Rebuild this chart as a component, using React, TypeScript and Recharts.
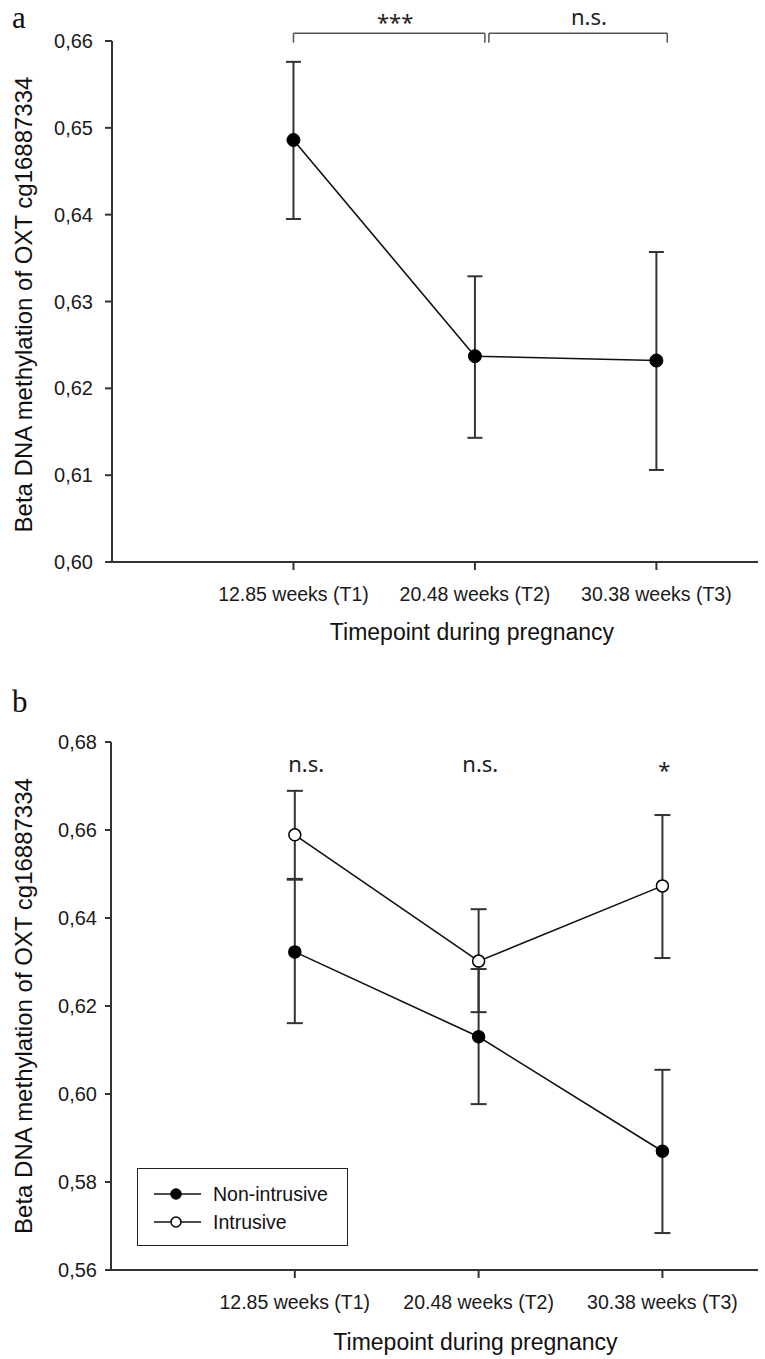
import React from "react";
import { LineChart, Line, XAxis, YAxis, ErrorBar, ReferenceLine, ReferenceDot, Legend } from "recharts";

const sans = "'Liberation Sans', Arial, sans-serif";
const noteFont = "'Noto Sans', sans-serif";

const timepoints = ["12.85 weeks (T1)", "20.48 weeks (T2)", "30.38 weeks (T3)"];
const positions = [1, 2, 3];

// panel a: all women
const meanA = [0.6486, 0.6237, 0.6232];
const lowA = [0.6395, 0.6143, 0.6106];
const highA = [0.6576, 0.6329, 0.6357];
const ticksA = [0.6, 0.61, 0.62, 0.63, 0.64, 0.65, 0.66];

// panel b: split by group
const meanNon = [0.6323, 0.613, 0.587];
const lowNon = [0.6161, 0.5977, 0.5684];
const highNon = [0.6487, 0.6284, 0.6055];
const meanInt = [0.6589, 0.6302, 0.6473];
const lowInt = [0.6489, 0.6186, 0.6309];
const highInt = [0.6689, 0.642, 0.6634];
const ticksB = [0.56, 0.58, 0.6, 0.62, 0.64, 0.66, 0.68];

// significance marks, in data units
const bracketsA = [
  [1.0, 2.055],
  [2.077, 3.06],
];
const bracketTop = 0.6609;
const bracketFoot = 0.6598;
const notesA = [
  { x: 1.56, y: 0.66212, text: "***" },
  { x: 2.628, y: 0.66271, text: "n.s." },
];
const notesB = [
  { x: 1.062, y: 0.6749, text: "n.s." },
  { x: 2.009, y: 0.6749, text: "n.s." },
  { x: 3.01, y: 0.6737, text: "*" },
];

const seriesB = [
  { key: "non", name: "Non-intrusive", open: false },
  { key: "int", name: "Intrusive", open: true },
];

const rowsA = positions.map((x, i) => ({
  x,
  mean: meanA[i],
  err: [meanA[i] - lowA[i], highA[i] - meanA[i]],
}));

const rowsB = positions.map((x, i) => ({
  x,
  non: meanNon[i],
  nonErr: [meanNon[i] - lowNon[i], highNon[i] - meanNon[i]],
  int: meanInt[i],
  intErr: [meanInt[i] - lowInt[i], highInt[i] - meanInt[i]],
}));

const comma = (v: number) => v.toFixed(2).replace(".", ",");
const axisStroke = { stroke: "#333", strokeWidth: 2 };
const yTick = { fontSize: 20, fill: "#1a1a1a", fontFamily: sans };
const xTick = { fontSize: 19.5, fill: "#1a1a1a", fontFamily: sans };

const xTitle = (dx: number, fromBottom: number) => (props: any) => {
  const vb = props.viewBox || { x: 112, y: 562, width: 646, height: 90 };
  const x = vb.x + vb.width / 2 + dx;
  const y = vb.y + vb.height - fromBottom;
  return (
    <text x={x} y={y} textAnchor="middle" fontSize={23} fill="#111" fontFamily={sans}>
      Timepoint during pregnancy
    </text>
  );
};

const yTitle = (cx: number, shift: number) => (props: any) => {
  const vb = props.viewBox || { x: 0, y: 41, width: 112, height: 521 };
  const cy = vb.y + vb.height / 2 + shift;
  return (
    <text
      x={cx}
      y={cy}
      dy="0.36em"
      transform={`rotate(-90 ${cx} ${cy})`}
      textAnchor="middle"
      fontSize={24}
      fill="#111"
      fontFamily={sans}
    >
      Beta DNA methylation of OXT cg16887334
    </text>
  );
};

function LegendBox({ payload }: any) {
  const items = seriesB.filter((s) => (payload || []).some((p: any) => p.value === s.name));
  return (
    <div
      style={{
        position: "relative",
        width: 211,
        height: 78,
        border: "1.5px solid #222",
        boxSizing: "border-box",
        background: "#fff",
        fontFamily: sans,
        fontSize: 19.5,
        color: "#111",
      }}
    >
      {items.map((s, i) => (
        <div
          key={s.name}
          style={{ position: "absolute", left: 0, top: 13 + i * 28, height: 24, display: "flex", alignItems: "center" }}
        >
          <svg width={75} height={24}>
            <line x1={16} x2={63} y1={12} y2={12} stroke="#111" strokeWidth={1.6} />
            <circle cx={38} cy={12} r={5} fill={s.open ? "#fff" : "#000"} stroke="#000" strokeWidth={1.5} />
          </svg>
          <span>{s.name}</span>
        </div>
      ))}
    </div>
  );
}

function PanelA() {
  return (
    <LineChart width={765} height={652} data={rowsA} margin={{ top: 41, right: 7, bottom: 0, left: 0 }}>
      <XAxis
        type="number"
        dataKey="x"
        domain={[0, 3.56]}
        ticks={positions}
        tickFormatter={(v) => timepoints[v - 1]}
        height={90}
        tickSize={8}
        tickMargin={17}
        axisLine={axisStroke}
        tickLine={axisStroke}
        tick={xTick}
        label={{ content: xTitle(37, 12) }}
      />
      <YAxis
        type="number"
        domain={[0.6, 0.66]}
        ticks={ticksA}
        tickFormatter={comma}
        width={112}
        tickSize={7}
        tickMargin={12}
        axisLine={axisStroke}
        tickLine={axisStroke}
        tick={yTick}
        label={{ content: yTitle(23, 3) }}
      />
      {bracketsA.flatMap(([x1, x2], i) => [
        <ReferenceLine key={`l${i}`} segment={[{ x: x1, y: bracketFoot }, { x: x1, y: bracketTop }]} stroke="#555" strokeWidth={1.5} ifOverflow="visible" />,
        <ReferenceLine key={`h${i}`} segment={[{ x: x1, y: bracketTop }, { x: x2, y: bracketTop }]} stroke="#555" strokeWidth={1.5} ifOverflow="visible" />,
        <ReferenceLine key={`r${i}`} segment={[{ x: x2, y: bracketTop }, { x: x2, y: bracketFoot }]} stroke="#555" strokeWidth={1.5} ifOverflow="visible" />,
      ])}
      {notesA.map((n, i) => (
        <ReferenceDot
          key={`n${i}`}
          x={n.x}
          y={n.y}
          r={0}
          fill="none"
          stroke="none"
          ifOverflow="visible"
          label={{ value: n.text, position: "center", fontSize: 22, fill: "#222", fontFamily: noteFont }}
        />
      ))}
      <Line
        type="linear"
        dataKey="mean"
        stroke="#111"
        strokeWidth={1.6}
        dot={{ r: 6.5, fill: "#000", stroke: "#000", strokeWidth: 1 }}
        activeDot={false}
        isAnimationActive={false}
      >
        <ErrorBar dataKey="err" direction="y" width={7.5} stroke="#333" strokeWidth={2} isAnimationActive={false} />
      </Line>
    </LineChart>
  );
}

function PanelB() {
  return (
    <LineChart width={765} height={709} data={rowsB} margin={{ top: 92, right: 7, bottom: 0, left: 0 }}>
      <XAxis
        type="number"
        dataKey="x"
        domain={[0, 3.52]}
        ticks={positions}
        tickFormatter={(v) => timepoints[v - 1]}
        height={89}
        tickSize={8}
        tickMargin={17}
        axisLine={axisStroke}
        tickLine={axisStroke}
        tick={xTick}
        label={{ content: xTitle(41, 9) }}
      />
      <YAxis
        type="number"
        domain={[0.56, 0.68]}
        ticks={ticksB}
        tickFormatter={comma}
        width={111}
        tickSize={6}
        tickMargin={8}
        axisLine={axisStroke}
        tickLine={axisStroke}
        tick={yTick}
        label={{ content: yTitle(23, 0) }}
      />
      {notesB.map((n, i) => (
        <ReferenceDot
          key={`n${i}`}
          x={n.x}
          y={n.y}
          r={0}
          fill="none"
          stroke="none"
          ifOverflow="visible"
          label={{ value: n.text, position: "center", fontSize: 22, fill: "#222", fontFamily: noteFont }}
        />
      ))}
      {seriesB.map((s) => (
        <Line
          key={s.key}
          type="linear"
          dataKey={s.key}
          name={s.name}
          stroke="#111"
          strokeWidth={1.6}
          dot={{ r: 6, fill: s.open ? "#fff" : "#000", stroke: "#000", strokeWidth: 1.5 }}
          activeDot={false}
          isAnimationActive={false}
        >
          <ErrorBar dataKey={`${s.key}Err`} direction="y" width={8} stroke="#333" strokeWidth={2} isAnimationActive={false} />
        </Line>
      ))}
      <Legend
        layout="vertical"
        align="center"
        verticalAlign="middle"
        wrapperStyle={{ left: 137, top: 518, width: 211, height: 78 }}
        content={LegendBox}
      />
    </LineChart>
  );
}

export default function App() {
  return (
    <div style={{ position: "absolute", left: 0, top: 0, width: 765, height: 1359, background: "#fff", fontFamily: sans }}>
      <div style={{ position: "absolute", left: 0, top: 0 }}>
        <PanelA />
      </div>
      <div style={{ position: "absolute", left: 0, top: 650 }}>
        <PanelB />
      </div>
      <svg width={765} height={1359} style={{ position: "absolute", left: 0, top: 0, pointerEvents: "none" }}>
        <text x={12} y={28} fontSize={31} fontFamily="'Liberation Serif', 'Times New Roman', serif" fill="#111">
          a
        </text>
        <text x={12} y={712} fontSize={31} fontFamily="'Liberation Serif', 'Times New Roman', serif" fill="#111">
          b
        </text>
      </svg>
    </div>
  );
}
